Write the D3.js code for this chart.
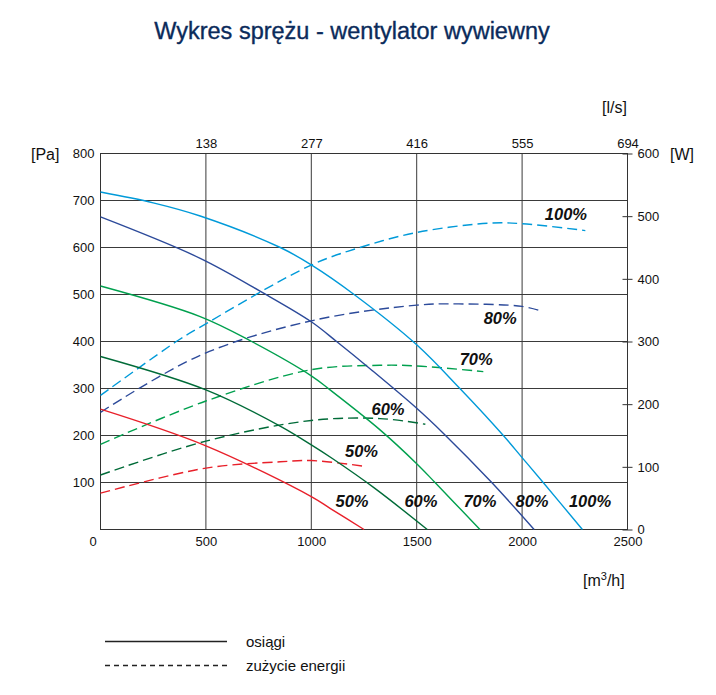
<!DOCTYPE html>
<html>
<head>
<meta charset="utf-8">
<script src="https://cdn.jsdelivr.net/npm/d3@7"></script>
<style>
  body { margin: 0; background: #fff; }
  text { font-family: "Liberation Sans", Arial, sans-serif; }
</style>
</head>
<body>
<svg id="chart" width="716" height="695"></svg>
<script>
// data
var flowTicks = [0, 500, 1000, 1500, 2000, 2500];      // m3/h
var lsLabels = ["138", "277", "416", "555", "694"];     // l/s at 500..2500 m3/h
var paTicks = [0, 100, 200, 300, 400, 500, 600, 700, 800];
var wTicks = [0, 100, 200, 300, 400, 500, 600];

var speeds = ["100%", "80%", "70%", "60%", "50%"];
var colors = ["#009ad9", "#2c4a9a", "#00a04e", "#006b38", "#e8202a"];

// pressure curves [m3/h, Pa]
var press100 = [[0, 718], [250, 695], [473, 667], [853, 600], [1000, 563], [1203, 500], [1500, 393], [1705, 300], [1911, 200], [2000, 153], [2100, 100], [2286, 0]];
var press80 = [[0, 665], [473, 577], [765, 505], [1000, 442], [1120, 400], [1287, 339], [1500, 258], [1626, 205], [1856, 100], [2057, 0]];
var press70 = [[0, 518], [473, 453], [717, 400], [1000, 327], [1089, 297], [1326, 212], [1500, 140], [1587, 100], [1800, 0]];
var press60 = [[0, 368], [500, 297], [852, 220], [1000, 180], [1100, 151], [1300, 88], [1550, 0]];
var press50 = [[0, 256], [500, 178], [1000, 70], [1089, 45], [1250, 0]];

// power curves [m3/h, W]
var power100 = [[0, 214], [369, 302], [473, 323], [1000, 422], [1250, 452], [1500, 474], [1850, 489], [2000, 488], [2300, 477]];
var power80 = [[0, 187], [473, 278], [1000, 333], [1500, 358], [1700, 360], [2000, 356], [2088, 349]];
var power70 = [[0, 136], [500, 205], [1000, 255], [1326, 262], [1500, 261], [1816, 252]];
var power60 = [[0, 87], [500, 141], [1000, 174], [1326, 177], [1541, 168]];
var power50 = [[0, 58], [500, 98], [852, 108], [1000, 110], [1250, 101]];

var pressCurves = [press100, press80, press70, press60, press50];
var powerCurves = [power100, power80, power70, power60, power50];

var svg = d3.select("#chart");

var x = d3.scaleLinear().domain([0, 2500]).range([100.5, 627.5]);
var yPa = d3.scaleLinear().domain([0, 800]).range([529.5, 153.5]);
var yW = d3.scaleLinear().domain([0, 600]).range([529.5, 153.5]);

// title
svg.append("text")
  .attr("x", 352)
  .attr("y", 39)
  .attr("text-anchor", "middle")
  .attr("font-size", "23.5px")
  .attr("fill", "#0b2b5b")
  .attr("stroke", "#0b2b5b")
  .attr("stroke-width", 0.35)
  .text("Wykres sprężu - wentylator wywiewny");

// grid
svg.append("g").selectAll("line")
  .data(paTicks.slice(1, -1))
  .enter().append("line")
  .attr("x1", x(0)).attr("x2", x(2500))
  .attr("y1", d => yPa(d)).attr("y2", d => yPa(d))
  .attr("stroke", "#3a3a3a").attr("stroke-width", 1);

svg.append("g").selectAll("line")
  .data(flowTicks.slice(1, -1))
  .enter().append("line")
  .attr("x1", d => x(d)).attr("x2", d => x(d))
  .attr("y1", yPa(0)).attr("y2", yPa(800))
  .attr("stroke", "#3a3a3a").attr("stroke-width", 1);

svg.append("rect")
  .attr("x", x(0)).attr("y", yPa(800))
  .attr("width", x(2500) - x(0)).attr("height", yPa(0) - yPa(800))
  .attr("fill", "none").attr("stroke", "#333").attr("stroke-width", 1);

// left axis
var paAxis = d3.axisLeft(yPa).tickValues(paTicks.slice(1)).tickSize(0).tickPadding(6);
var gL = svg.append("g").attr("transform", "translate(" + x(0) + ",0)").call(paAxis);

// right axis
var wAxis = d3.axisRight(yW).tickValues(wTicks).tickSize(5).tickPadding(5);
var gR = svg.append("g").attr("transform", "translate(" + x(2500) + ",0)").call(wAxis);
gR.selectAll(".tick line").attr("x1", -5);

// bottom axis
var flowAxis = d3.axisBottom(x).tickValues(flowTicks).tickSize(0).tickPadding(7)
  .tickFormat(d3.format("d"));
var gB = svg.append("g").attr("transform", "translate(0," + yPa(0) + ")").call(flowAxis);
gB.selectAll(".tick text").filter(d => d === 0).attr("dx", "-8px");

// top axis (l/s)
var topAxis = d3.axisTop(x).tickValues(flowTicks.slice(1)).tickSize(0).tickPadding(6)
  .tickFormat((d, i) => lsLabels[i]);
var gT = svg.append("g").attr("transform", "translate(0," + yPa(800) + ")").call(topAxis);

[gL, gR, gB, gT].forEach(function (g) {
  g.select(".domain").remove();
  g.selectAll(".tick text")
    .attr("font-family", "Liberation Sans, Arial, sans-serif")
    .attr("font-size", "13px")
    .attr("fill", "#111");
  g.selectAll(".tick line").attr("stroke", "#333");
});

// unit labels
svg.append("text").attr("x", 31).attr("y", 160).attr("font-size", "16px").attr("fill", "#111").text("[Pa]");
svg.append("text").attr("x", 670).attr("y", 160).attr("font-size", "16px").attr("fill", "#111").text("[W]");
svg.append("text").attr("x", 602).attr("y", 113).attr("font-size", "16px").attr("fill", "#111").text("[l/s]");
var mh = svg.append("text").attr("x", 583).attr("y", 586).attr("font-size", "16px").attr("fill", "#111");
mh.append("tspan").text("[m");
mh.append("tspan").attr("font-size", "11px").attr("dy", "-6").text("3");
mh.append("tspan").attr("dy", "6").text("/h]");

// curves
var linePa = d3.line().x(d => x(d[0])).y(d => yPa(d[1])).curve(d3.curveCatmullRom.alpha(0.5));
var lineW = d3.line().x(d => x(d[0])).y(d => yW(d[1])).curve(d3.curveCatmullRom.alpha(0.5));

svg.append("g").selectAll("path")
  .data(powerCurves)
  .enter().append("path")
  .attr("d", lineW)
  .attr("fill", "none")
  .attr("stroke", (d, i) => colors[i])
  .attr("stroke-width", 1.4)
  .attr("stroke-dasharray", "10,5");

svg.append("g").selectAll("path")
  .data(pressCurves)
  .enter().append("path")
  .attr("d", linePa)
  .attr("fill", "none")
  .attr("stroke", (d, i) => colors[i])
  .attr("stroke-width", 1.4);

// curve labels
var powerLabelPos = [[2208, 502], [1896, 336], [1782, 272], [1364, 191], [1238, 124]]; // [m3/h, W]
var pressLabelPos = [2322, 2047, 1800, 1520, 1193];                                     // m3/h

svg.append("g").selectAll("text")
  .data(speeds)
  .enter().append("text")
  .attr("x", (d, i) => x(powerLabelPos[i][0]))
  .attr("y", (d, i) => yW(powerLabelPos[i][1]) + 5.5)
  .attr("text-anchor", "middle")
  .attr("font-size", "16.5px")
  .attr("font-weight", "bold")
  .attr("font-style", "italic")
  .attr("fill", "#111")
  .text(d => d);

svg.append("g").selectAll("text")
  .data(speeds)
  .enter().append("text")
  .attr("x", (d, i) => x(pressLabelPos[i]))
  .attr("y", yPa(59) + 5.5)
  .attr("text-anchor", "middle")
  .attr("font-size", "16.5px")
  .attr("font-weight", "bold")
  .attr("font-style", "italic")
  .attr("fill", "#111")
  .text(d => d);

// legend
var legend = svg.append("g");
legend.append("line").attr("x1", 105).attr("x2", 227).attr("y1", 641.5).attr("y2", 641.5)
  .attr("stroke", "#222").attr("stroke-width", 1.3);
legend.append("line").attr("x1", 105).attr("x2", 227).attr("y1", 665.5).attr("y2", 665.5)
  .attr("stroke", "#222").attr("stroke-width", 1.3).attr("stroke-dasharray", "5,4");
legend.append("text").attr("x", 246).attr("y", 647).attr("font-size", "15px").attr("fill", "#111")
  .style("font-family", "Liberation Sans Narrow, Liberation Sans, Arial, sans-serif").text("osiągi");
legend.append("text").attr("x", 246).attr("y", 671).attr("font-size", "15px").attr("fill", "#111")
  .style("font-family", "Liberation Sans Narrow, Liberation Sans, Arial, sans-serif").text("zużycie energii");
</script>
</body>
</html>
